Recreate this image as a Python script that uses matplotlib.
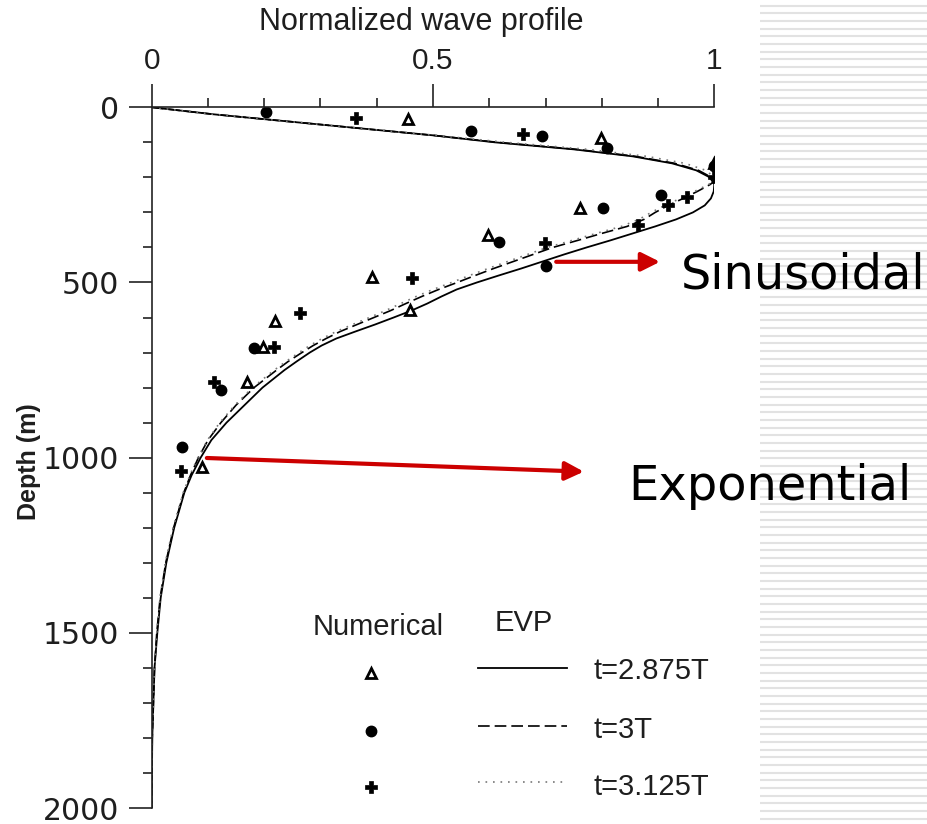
import numpy as np
import matplotlib
matplotlib.use("Agg")
import matplotlib.pyplot as plt
from matplotlib.ticker import MultipleLocator, FixedLocator

# ---------------- data ----------------
# EVP curves: depth (m) and normalized amplitude
depth_solid = [0, 20, 40, 60, 80, 100, 120, 140, 160, 180, 200, 220, 240, 260, 280, 300,
               320, 340, 360, 380, 400, 420, 440, 460, 480, 500, 520, 540, 560, 580, 600,
               620, 640, 660, 680, 700, 725, 750, 800, 850, 900, 950, 1000, 1050, 1100,
               1200, 1300, 1400, 1500, 1600, 1700, 1800, 1900, 2000]
amp_solid = [0, 0.11, 0.24, 0.37, 0.50, 0.61, 0.75, 0.855, 0.925, 0.968, 0.992, 1.0, 0.999,
             0.994, 0.983, 0.962, 0.932, 0.895, 0.855, 0.815, 0.773, 0.733, 0.695, 0.657,
             0.617, 0.578, 0.542, 0.515, 0.49, 0.462, 0.43, 0.397, 0.362, 0.328, 0.302,
             0.281, 0.258, 0.236, 0.197, 0.165, 0.133, 0.106, 0.087, 0.071, 0.058, 0.04,
             0.026, 0.016, 0.01, 0.005, 0.003, 0.001, 0.0005, 0.0]

depth_dash = [0, 20, 40, 60, 80, 100, 120, 140, 160, 180, 200, 210, 220, 240, 260, 280, 300,
              320, 340, 360, 380, 400, 420, 440, 460, 480, 500, 520, 540, 560, 580, 600,
              620, 640, 660, 680, 700, 725, 750, 800, 850, 900, 950, 1000, 1050, 1100,
              1200, 1300, 1400, 1500, 1600, 1700, 1800, 1900, 2000]
amp_dash = [0, 0.11, 0.24, 0.37, 0.50, 0.615, 0.755, 0.86, 0.93, 0.972, 0.995, 1.0, 0.993,
            0.97, 0.945, 0.918, 0.895, 0.875, 0.845, 0.80, 0.757, 0.713, 0.678, 0.643,
            0.608, 0.575, 0.543, 0.51, 0.48, 0.452, 0.425, 0.395, 0.365, 0.335, 0.31,
            0.287, 0.267, 0.243, 0.222, 0.182, 0.15, 0.123, 0.1, 0.083, 0.069, 0.057,
            0.039, 0.025, 0.015, 0.009, 0.005, 0.003, 0.001, 0.0005, 0.0]

depth_dot = [0, 20, 40, 60, 80, 100, 120, 140, 160, 180, 200, 210, 220, 240, 260, 280, 300,
             320, 340, 360, 380, 400, 420, 440, 460, 480, 500, 520, 540, 560, 580, 600,
             620, 640, 660, 680, 700, 725, 750, 800, 850, 900, 950, 1000, 1050, 1100,
             1200, 1300, 1400, 1500, 1600, 1700, 1800, 1900, 2000]
amp_dot = [0, 0.11, 0.24, 0.37, 0.505, 0.63, 0.775, 0.88, 0.948, 0.985, 1.0, 0.999, 0.99,
           0.965, 0.94, 0.912, 0.888, 0.866, 0.835, 0.79, 0.747, 0.703, 0.668, 0.633,
           0.598, 0.565, 0.533, 0.5, 0.47, 0.443, 0.416, 0.387, 0.357, 0.328, 0.303,
           0.281, 0.262, 0.239, 0.218, 0.179, 0.148, 0.121, 0.099, 0.082, 0.068, 0.056,
           0.038, 0.024, 0.015, 0.009, 0.005, 0.003, 0.001, 0.0005, 0.0]

# Numerical results (markers)
tri_x = [0.455, 0.798, 1.0, 0.761, 0.598, 0.392, 0.460, 0.220, 0.198, 0.170, 0.090]
tri_y = [33, 87, 158, 288, 364, 485, 578, 609, 683, 783, 1027]
dot_x = [0.203, 0.568, 0.693, 0.809, 1.0, 0.905, 0.803, 0.617, 0.701, 0.181, 0.123, 0.053]
dot_y = [14, 67, 81, 115, 168, 249, 288, 385, 452, 686, 807, 970]
plus_x = [0.363, 0.660, 1.0, 0.951, 0.918, 0.865, 0.699, 0.462, 0.264, 0.217, 0.111, 0.052]
plus_y = [30, 77, 200, 255, 279, 336, 388, 486, 588, 683, 783, 1037]

x_ticks = [0, 0.5, 1]
x_ticklabels = ["0", "0.5", "1"]
y_ticks = [0, 500, 1000, 1500, 2000]
y_ticklabels = ["0", "500", "1000", "1500", "2000"]
legend_labels = ["t=2.875T", "t=3T", "t=3.125T"]

# ---------------- figure ----------------
W, H = 927, 824
fig = plt.figure(figsize=(W / 100, H / 100), dpi=100)
fig.patch.set_facecolor("white")

# striped slide background on the right
bg = fig.add_axes([760 / W, 0, (W - 760) / W, 1])
bg.set_xlim(0, 1)
bg.set_ylim(H, 0)
bg.axis("off")
bg.hlines(np.arange(5.7, H, 7.67), 0, 1, color="#e2e2e2", lw=1.5)

font = "Liberation Sans"
tcol = "#1e1e1e"
x0, x1 = 151.7, 714.3
y0, y1 = 107.3, 808.0
ax = fig.add_axes([x0 / W, 1 - y1 / H, (x1 - x0) / W, (y1 - y0) / H])
ax.set_xlim(0, 1)
ax.set_ylim(2000, 0)
ax.patch.set_alpha(0)

for s in ["right", "bottom"]:
    ax.spines[s].set_visible(False)
for s in ["left", "top"]:
    ax.spines[s].set_linewidth(1.2)
    ax.spines[s].set_color("#222222")

ax.xaxis.tick_top()
ax.xaxis.set_major_locator(FixedLocator(x_ticks))
ax.set_xticklabels(x_ticklabels)
ax.xaxis.set_minor_locator(MultipleLocator(0.1))
ax.yaxis.set_major_locator(FixedLocator(y_ticks))
ax.set_yticklabels(y_ticklabels)
ax.yaxis.set_minor_locator(MultipleLocator(100))
ax.tick_params(which="major", direction="out", length=16.5, width=1.2, color="#222222",
               labelcolor=tcol, pad=7)
ax.tick_params(which="minor", direction="out", length=6.5, width=1.2, color="#222222")
for lab in ax.get_xticklabels():
    lab.set_fontfamily(font)
    lab.set_fontsize(21.5)
for lab in ax.get_yticklabels():
    lab.set_fontfamily("DejaVu Sans")
    lab.set_fontsize(21.5)

# curves
ax.plot(amp_solid, depth_solid, color="black", lw=1.3, solid_capstyle="butt")
ax.plot(amp_dash, depth_dash, color="black", lw=1.2, dashes=(7, 3))
ax.plot(amp_dot, depth_dot, color="#777777", lw=1.2, dashes=(1, 3.5))

# markers
tri_kw = dict(marker="^", ms=7, mfc="white", mec="black", mew=2.0, ls="none")
dot_kw = dict(marker="o", ms=7.5, mfc="black", mec="black", ls="none")
plus_kw = dict(marker="P", ms=9, mfc="black", mec="black", mew=0.5, ls="none")
ax.plot(tri_x, tri_y, **tri_kw)
ax.plot(dot_x, dot_y, **dot_kw)
ax.plot(plus_x, plus_y, **plus_kw)

# axis titles
fig.text(421 / W, 1 - 22 / H, "Normalized wave profile", ha="center", va="center",
         fontsize=22, family=font, color=tcol)
fig.text(29 / W, 1 - 462 / H, "Depth (m)", ha="center", va="center", rotation=90,
         fontsize=18, family=font, fontweight="bold", color=tcol)

# legend (drawn manually)
ax.text(0.402, 1482, "Numerical", ha="center", va="center", fontsize=21, family=font,
        color=tcol, clip_on=False)
ax.text(0.662, 1471, "EVP", ha="center", va="center", fontsize=21, family=font,
        color=tcol, clip_on=False)
leg_y_mark = [1614, 1779, 1941]
leg_y_line = [1600, 1765, 1927]
leg_y_text = [1610, 1777, 1939]
ax.plot([0.390], [leg_y_mark[0]], clip_on=False, **tri_kw)
ax.plot([0.390], [leg_y_mark[1]], clip_on=False, **dot_kw)
ax.plot([0.390], [leg_y_mark[2]], clip_on=False, **plus_kw)
ax.plot([0.5795, 0.7377], [leg_y_line[0]] * 2, color="black", lw=1.3)
ax.plot([0.5795, 0.7377], [leg_y_line[1]] * 2, color="black", lw=1.2, dashes=(7, 3))
ax.plot([0.5795, 0.7377], [leg_y_line[2]] * 2, color="#777777", lw=1.2, dashes=(1, 3.5))
for yy, lab in zip(leg_y_text, legend_labels):
    ax.text(0.785, yy, lab, ha="left", va="center", fontsize=21, family=font,
            color=tcol, clip_on=False)

# annotations with red arrows
red = "#cc0000"
ax.annotate("", xy=(0.9035, 441), xytext=(0.719, 441),
            arrowprops=dict(arrowstyle="-|>", color=red, lw=3, mutation_scale=28,
                            shrinkA=0, shrinkB=0), annotation_clip=False)
ax.annotate("", xy=(0.768, 1040), xytext=(0.098, 1001),
            arrowprops=dict(arrowstyle="-|>", color=red, lw=3, mutation_scale=28,
                            shrinkA=0, shrinkB=0), annotation_clip=False)
ax.text(0.941, 518, "Sinusoidal", ha="left", va="baseline", fontsize=34.5,
        family="DejaVu Sans", color="black", clip_on=False)
ax.text(0.847, 1120, "Exponential", ha="left", va="baseline", fontsize=34.5,
        family="DejaVu Sans", color="black", clip_on=False)

fig.savefig("out.png", dpi=100, facecolor="white")
